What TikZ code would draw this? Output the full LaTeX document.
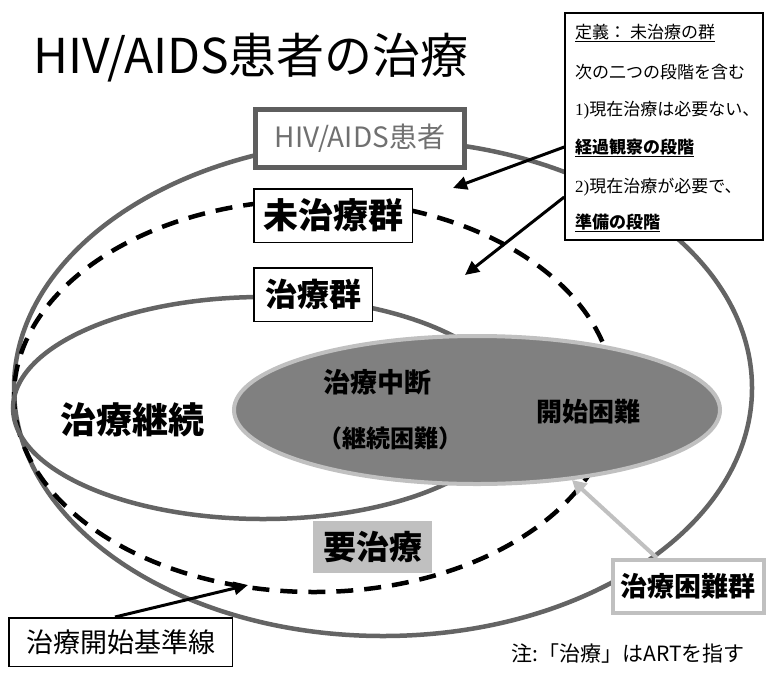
\documentclass[tikz,border=0pt]{standalone}
\usepackage{fontspec}
\setmainfont{Noto Sans CJK JP}
\newfontfamily\serifnum{Liberation Serif}
\usetikzlibrary{arrows.meta,shapes.geometric}
\definecolor{ringgray}{HTML}{646464}
\definecolor{boxgray}{HTML}{5E5E5E}
\definecolor{txtgray}{HTML}{707070}
\definecolor{fillgray}{HTML}{808080}
\definecolor{paleline}{HTML}{C0C0C0}
\begin{document}
\begin{tikzpicture}[x=1pt,y=-1pt,
  ring/.style={draw=ringgray,line width=4.5pt},
  cut/.style={draw=black,line width=4.5pt,dash pattern=on 17pt off 11pt},
  plainbox/.style={draw=black,line width=1.5pt,fill=white,inner sep=0pt},
  blackarrow/.style={draw=black,line width=3pt,-{Triangle[length=14pt,width=13pt]}},
  greyarrow/.style={draw=paleline,line width=4pt,-{Triangle[length=14pt,width=15pt]}},
  deftext/.style={anchor=west,font=\fontsize{17}{20}\selectfont,inner sep=0pt},
  lbl/.style={inner sep=0pt}
]
\useasboundingbox (0,0) rectangle (767,672);
\fill[white] (0,0) rectangle (767,672);

% rings
\draw[ring] (383,388) ellipse [x radius=369pt, y radius=248pt];
\draw[cut] (314,396) ellipse [x radius=300pt, y radius=196pt];
\draw[ring] (263,408) ellipse [x radius=250pt, y radius=111pt];

% central grey ellipse
\node[ellipse,draw=paleline,line width=4pt,fill=fillgray,minimum width=486pt,minimum height=148pt,inner sep=0pt] (core) at (477,410) {};
\node[lbl,font=\fontsize{27}{30}\selectfont\bfseries] (stop) at (377,382) {治療中断};
\node[lbl,font=\fontsize{24}{28}\selectfont\bfseries] (stopsub) at (390,438) {（継続困難）};
\node[lbl,font=\fontsize{26}{30}\selectfont\bfseries] (hardstart) at (588,412) {開始困難};

% labels
\node[lbl,font=\fontsize{36}{40}\selectfont\bfseries] (cont) at (132,420) {治療継続};

% boxes
\node[draw=boxgray,line width=5pt,fill=white,minimum width=209pt,minimum height=58pt,inner sep=0pt,text=txtgray,font=\fontsize{28}{32}\selectfont] (hiv) at (360,138.5) {HIV/AIDS患者};
\node[plainbox,minimum width=158.5pt,minimum height=53.5pt,font=\fontsize{35}{40}\selectfont\bfseries] (untreated) at (333,215.5) {未治療群};
\node[plainbox,minimum width=118.5pt,minimum height=53.5pt,font=\fontsize{32}{36}\selectfont\bfseries] (treated) at (313,294.5) {治療群};
\node[fill=paleline,minimum width=119pt,minimum height=52pt,inner sep=0pt,font=\fontsize{33}{36}\selectfont\bfseries] (need) at (372.5,547) {要治療};
\node[draw=paleline,line width=4pt,fill=white,minimum width=151pt,minimum height=53pt,inner sep=0pt,font=\fontsize{27}{30}\selectfont\bfseries] (hard) at (688,586.5) {治療困難群};
\node[plainbox,minimum width=223.5pt,minimum height=48.5pt,font=\fontsize{27}{30}\selectfont] (start) at (120.5,642) {治療開始基準線};

% definition box
\node[plainbox,minimum width=198pt,minimum height=227pt] (def) at (664,126.5) {};
\node[deftext] (def1) at (575,33) {\underline{定義：\ 未治療の群}};
\node[deftext] (def2) at (575,72) {次の二つの段階を含む};
\node[deftext] (def3) at (575,110) {{\serifnum 1)}現在治療は必要ない、};
\node[deftext] (def4) at (575,148) {\bfseries\underline{経過観察の段階}};
\node[deftext] (def5) at (575,187) {{\serifnum 2)}現在治療が必要で、};
\node[deftext] (def6) at (575,223) {\bfseries\underline{準備の段階}};

% arrows
\coordinate (tip1) at (453,188);
\coordinate (tip2) at (465,275);
\coordinate (tip3) at (572,480);
\coordinate (tip4) at (248,585);
\draw[blackarrow] ([yshift=-20.5pt]def.west) -- (tip1);
\draw[blackarrow] ([yshift=-70.5pt]def.west) -- (tip2);
\draw[greyarrow] ([xshift=-31pt]hard.north) -- (tip3);
\draw[blackarrow] ([xshift=-5.5pt]start.north) -- (tip4);

% title and note
\node[anchor=west,inner sep=0pt,font=\fontsize{48}{56}\selectfont] (title) at (33,58) {HIV/AIDS患者の治療};
\node[lbl,font=\fontsize{21}{24}\selectfont] (note) at (628,654) {注:「治療」はARTを指す};
\end{tikzpicture}
\end{document}
